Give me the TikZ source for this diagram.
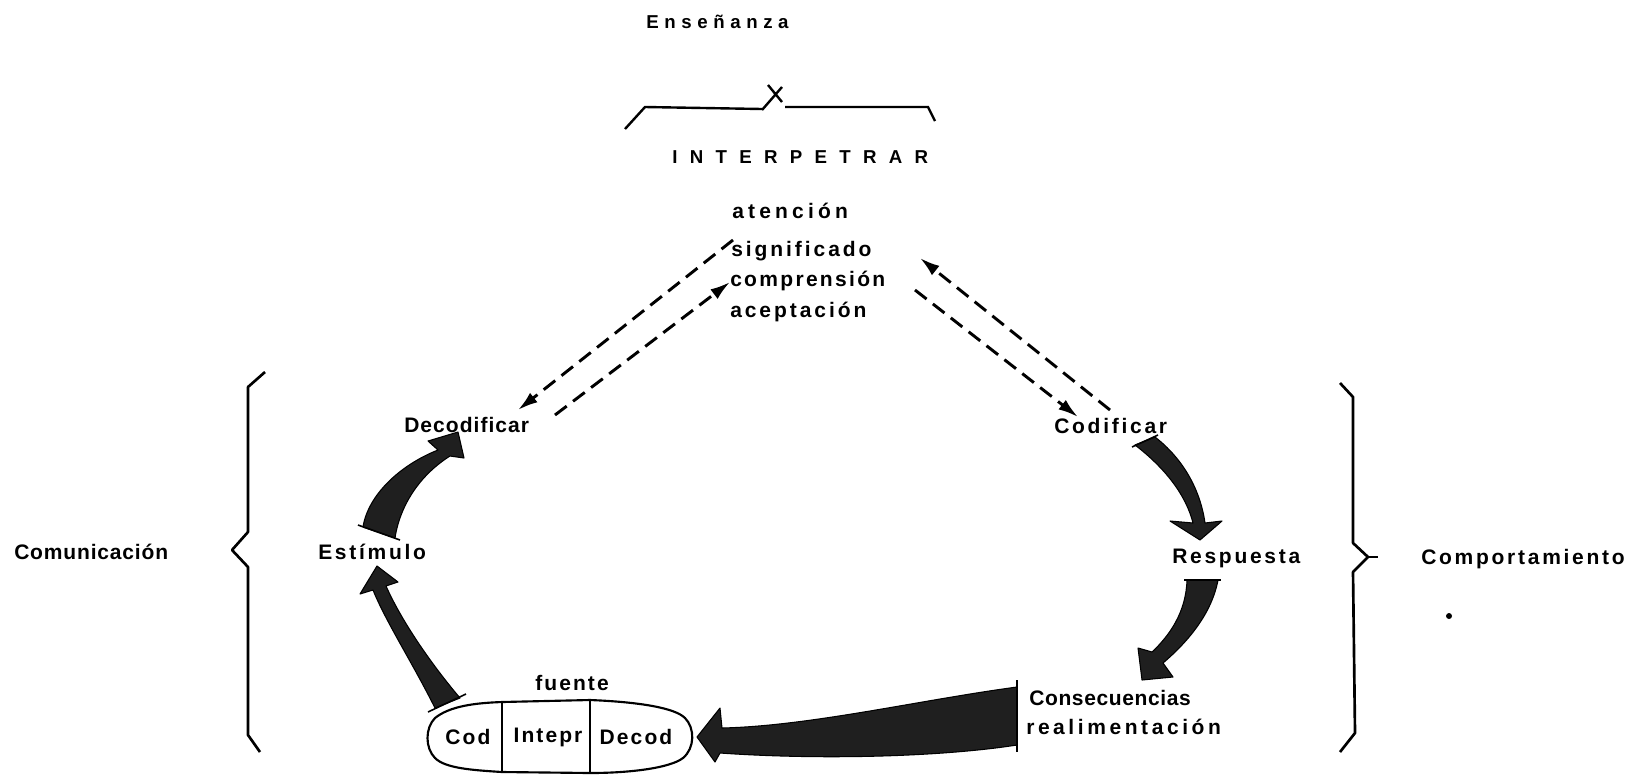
\documentclass[tikz,border=0pt]{standalone}
\usepackage{fontspec}
\setmainfont{Liberation Sans}
\usetikzlibrary{arrows.meta}
\begin{document}
\begin{tikzpicture}[x=0.75pt,y=-0.75pt,
  lbl/.style={inner sep=0pt, anchor=west, font=\fontsize{15.75}{18}\selectfont\bfseries\addfontfeatures{LetterSpace=#1}},
  lbl/.default=13,
  clbl/.style={inner sep=0pt, anchor=center, font=\fontsize{15.75}{18}\selectfont\bfseries\addfontfeatures{LetterSpace=#1}},
  clbl/.default=10,
  title/.style={inner sep=0pt, anchor=west, font=\fontsize{14}{16}\selectfont\bfseries\addfontfeatures{LetterSpace=#1}},
  dasharrow/.style={line width=2.2pt, dash pattern=on 11pt off 6pt, -{Latex[length=15pt,width=9pt]}},
  brace/.style={line width=2pt, line join=round},
  fatarrow/.style={fill=black!88, draw=black, line width=0.8pt, line join=round},
  outline/.style={line width=1.6pt}]
\useasboundingbox (0,0) rectangle (1633,776);
\fill[white] (0,0) rectangle (1633,776);

% top heading and bracket
\node[title=30] (ens) at (646,22) {Enseñanza};
\draw[line width=1.8pt] (625,129) -- (645,107) -- (762,109);
\draw[line width=1.8pt] (768,85) -- (782,102) (782,87) -- (762,110);
\draw[line width=1.8pt] (785,107) -- (928,107) -- (935,121);
\node[title=66] (interp) at (672,157) {INTERPETRAR};

% central words
\node[lbl=20] (aten) at (732,211) {atención};
\node[lbl=14] (sign) at (731,251) {significado};
\node[lbl=11] (comp) at (730,281) {comprensión};
\node[lbl=14] (acep) at (730,312) {aceptación};

% cycle labels
\node[lbl=5] (deco) at (404,425) {Decodificar};
\node[lbl=13] (codi) at (1054,426) {Codificar};
\node[lbl=13] (esti) at (318,552) {Estímulo};
\node[lbl=13] (resp) at (1172,558) {Respuesta};
\node[lbl=3] (cons) at (1029,698) {Consecuencias};
\node[lbl=17] (real) at (1026,727) {realimentación};
\node[lbl=4] (comu) at (14,552) {Comunicación};
\node[lbl=13] (compo) at (1421,559) {Comportamiento};
\fill (1449,616) circle (3);

% braces
\draw[brace] (265,372) -- (248,387) -- (248,532) -- (232,550) -- (248,567) -- (248,735) -- (260,752);
\draw[brace] (1340,383) -- (1353,397) -- (1353,543) -- (1368,557) -- (1353,572) -- (1355,733) -- (1340,752);
\draw[brace] (1368,557) -- (1378,557);

% dashed connectors
\coordinate (dA1) at (733,240); \coordinate (dA2) at (518,410);
\coordinate (dB1) at (555,415); \coordinate (dB2) at (730,282);
\coordinate (dC1) at (1110,410); \coordinate (dC2) at (920,258);
\coordinate (dD1) at (915,290); \coordinate (dD2) at (1078,417);
\draw[dasharrow] (dA1) -- (dA2);
\draw[dasharrow] (dB1) -- (dB2);
\draw[dasharrow] (dC1) -- (dC2);
\draw[dasharrow] (dD1) -- (dD2);

% source capsule
\draw[outline] (502,702) -- (590,700) .. controls (640,702) and (675,708) .. (685,718)
  .. controls (695,728) and (695,748) .. (683,758) .. controls (670,768) and (630,773) .. (590,773)
  -- (502,772) .. controls (470,770) and (445,768) .. (435,758)
  .. controls (425,748) and (425,728) .. (435,718) .. controls (450,706) and (475,703) .. (502,702) -- cycle;
\draw[outline] (502,702) -- (502,772);
\draw[outline] (590,700) -- (590,773);
\node[clbl=10] (cod) at (468,737) {Cod};
\node[clbl=10] (intepr) at (548,737) {Intepr};
\node[clbl=10] (decod) at (636,737) {Decod};
\node[lbl=10] (fuente) at (535,683) {fuente};

% fat arrows
% fuente -> Estimulo
\draw[fatarrow] (435,708) .. controls (412,662) and (386,622) .. (373,590) -- (360,594) -- (377,566)
  -- (398,582) -- (386,586) .. controls (402,622) and (432,665) .. (460,698) -- cycle;
\draw[line width=1.2pt] (428,712) -- (466,694);
% Estimulo -> Decodificar
\draw[fatarrow] (363,527) .. controls (368,495) and (400,465) .. (438,450) -- (428,441) -- (458,432)
  -- (464,458) -- (450,456) .. controls (420,475) and (400,505) .. (395,538) -- cycle;
\draw[line width=1.2pt] (358,525) -- (400,540);
% Codificar -> Respuesta
\draw[fatarrow] (1135,445) .. controls (1165,468) and (1186,495) .. (1193,523) -- (1170,521) -- (1200,540)
  -- (1222,521) -- (1205,523) .. controls (1200,488) and (1182,458) .. (1155,437) -- cycle;
\draw[line width=1.2pt] (1132,447) -- (1158,435);
% Respuesta -> Consecuencias
\draw[fatarrow] (1187,580) .. controls (1186,612) and (1170,635) .. (1152,652) -- (1138,648) -- (1142,680)
  -- (1173,677) -- (1163,663) .. controls (1190,640) and (1212,612) .. (1218,580) -- cycle;
\draw[line width=1.2pt] (1184,580) -- (1221,580);
% Consecuencias -> Decod
\draw[fatarrow] (1017,687) .. controls (920,700) and (810,726) .. (722,728) -- (720,708) -- (697,737)
  -- (715,762) -- (720,753) .. controls (820,760) and (940,757) .. (1017,745) -- cycle;
\draw[line width=1.2pt] (1017,680) -- (1017,752);
\end{tikzpicture}
\end{document}
